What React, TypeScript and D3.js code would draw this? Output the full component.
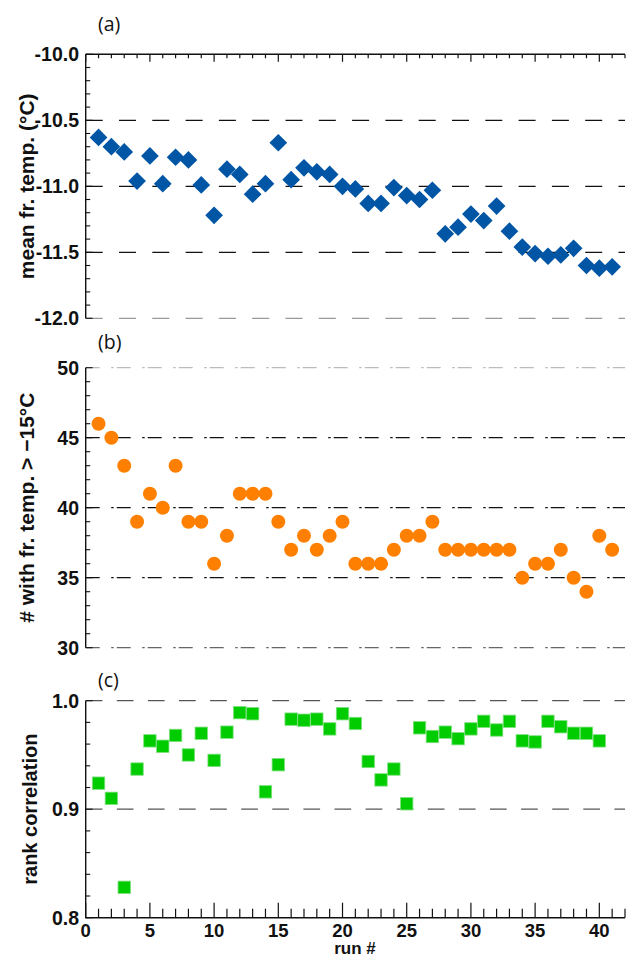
import React from "react";
import * as d3 from "d3";

const runsA = d3.range(1, 42);
const meanTemp = [
  -10.63, -10.70, -10.74, -10.96, -10.77, -10.98, -10.78, -10.80, -10.99, -11.22,
  -10.87, -10.91, -11.06, -10.98, -10.67, -10.95, -10.86, -10.89, -10.91, -11.00,
  -11.02, -11.13, -11.13, -11.01, -11.07, -11.10, -11.03, -11.36, -11.31, -11.21,
  -11.26, -11.15, -11.34, -11.46, -11.51, -11.53, -11.52, -11.47, -11.60, -11.62,
  -11.61,
];
const countAbove = [
  46, 45, 43, 39, 41, 40, 43, 39, 39, 36,
  38, 41, 41, 41, 39, 37, 38, 37, 38, 39,
  36, 36, 36, 37, 38, 38, 39, 37, 37, 37,
  37, 37, 37, 35, 36, 36, 37, 35, 34, 38,
  37,
];
const runsC = d3.range(1, 41);
const rankCorr = [
  0.924, 0.910, 0.828, 0.937, 0.963, 0.958, 0.968, 0.950, 0.970, 0.945,
  0.971, 0.989, 0.988, 0.916, 0.941, 0.983, 0.982, 0.983, 0.974, 0.988,
  0.979, 0.944, 0.927, 0.937, 0.905, 0.975, 0.967, 0.971, 0.965, 0.974,
  0.981, 0.973, 0.981, 0.963, 0.962, 0.981, 0.976, 0.970, 0.970, 0.963,
];

const xTicksMajor = [0, 5, 10, 15, 20, 25, 30, 35, 40];
const aTicks = [-10.0, -10.5, -11.0, -11.5, -12.0];
const bTicks = [50, 45, 40, 35, 30];
const cTicks = [1.0, 0.9, 0.8];

const W = 627;
const H = 958;
const X0 = 85.7;
const X1 = 625;

const tickFont = "Liberation Sans";
const panelFont = "Open Sans";

const boldStyle: React.CSSProperties = { fontFamily: tickFont, fontWeight: 700 };

export default function App() {
  const x = d3.scaleLinear().domain([0, 42]).range([X0, X1]);
  const yA = d3.scaleLinear().domain([-12, -10]).range([318.3, 54.3]);
  const yB = d3.scaleLinear().domain([30, 50]).range([647.7, 367.7]);
  const yC = d3.scaleLinear().domain([0.8, 1.0]).range([917.7, 700.7]);

  const minorA = d3.range(0, 21).map((i) => -12 + i * 0.1);
  const minorB = d3.range(30, 51);
  const minorC = d3.range(0, 11).map((i) => 0.8 + i * 0.02);
  const xMinor = d3.range(0, 43);

  const diamond = d3.symbol().type(d3.symbolDiamond2).size(200);
  const dA = diamond()!;

  const yAxisLine = (top: number, bottom: number) => (
    <line x1={X0} x2={X0} y1={top} y2={bottom} stroke="#111" strokeWidth={1.4} />
  );

  return (
    <svg
      width={W}
      height={H}
      style={{ position: "absolute", left: 0, top: 0, background: "#fff" }}
    >
      {/* ---------- Panel (a) ---------- */}
      <text x={98} y={31} style={{ fontFamily: panelFont }} fontSize={19.5} fill="#111">(a)</text>
      {aTicks.map((t, i) => (
        <line
          key={"ga" + i}
          x1={X0}
          x2={X1}
          y1={yA(t)}
          y2={yA(t)}
          stroke={t === -12 ? "#999" : t === -10 ? "none" : "#111"}
          strokeWidth={1.3}
          strokeDasharray="17 16.3"
        />
      ))}
      <line x1={X0} x2={X1} y1={yA(-10)} y2={yA(-10)} stroke="#111" strokeWidth={1.4} />
      {xMinor.map((v) => (
        <line
          key={"ta" + v}
          x1={x(v)}
          x2={x(v)}
          y1={yA(-10)}
          y2={yA(-10) + (v % 5 === 0 ? 7.5 : 4)}
          stroke="#111"
          strokeWidth={1.2}
        />
      ))}
      {yAxisLine(yA(-10), yA(-12))}
      {minorA.map((v, i) => (
        <line key={"ma" + i} x1={X0} x2={X0 + (i % 5 === 0 ? 7 : 4.5)} y1={yA(v)} y2={yA(v)} stroke="#111" strokeWidth={1.1} />
      ))}
      {aTicks.map((t) => (
        <text key={"la" + t} x={79} y={yA(t) + 6.8} textAnchor="end" style={boldStyle} fontSize={19.5} fill="#111">
          {t.toFixed(1)}
        </text>
      ))}
      <text
        transform={`translate(34,${(yA(-10) + yA(-12)) / 2}) rotate(-90)`}
        textAnchor="middle"
        style={boldStyle}
        fontSize={21}
        fill="#111"
      >
        mean fr. temp. (°C)
      </text>
      {runsA.map((r, i) => (
        <path key={"pa" + r} d={dA} transform={`translate(${x(r)},${yA(meanTemp[i])})`} fill="#0055A5" />
      ))}

      {/* ---------- Panel (b) ---------- */}
      <text x={98} y={349} style={{ fontFamily: panelFont }} fontSize={19.5} fill="#111">(b)</text>
      {bTicks.map((t) => (
        <line
          key={"gb" + t}
          x1={X0}
          x2={X1}
          y1={yB(t)}
          y2={yB(t)}
          stroke={t === 50 ? "#bbb" : t === 30 ? "#666" : "#111"}
          strokeWidth={1.3}
          strokeDasharray="14 11.5 2.5 3"
        />
      ))}
      {yAxisLine(yB(50), yB(30))}
      {minorB.map((v) => (
        <line key={"mb" + v} x1={X0} x2={X0 + (v % 5 === 0 ? 7 : 4.5)} y1={yB(v)} y2={yB(v)} stroke="#111" strokeWidth={1.1} />
      ))}
      {bTicks.map((t) => (
        <text key={"lb" + t} x={79} y={yB(t) + 6.8} textAnchor="end" style={boldStyle} fontSize={19.5} fill="#111">
          {t}
        </text>
      ))}
      <text
        transform={`translate(34,${(yB(50) + yB(30)) / 2}) rotate(-90)`}
        textAnchor="middle"
        style={boldStyle}
        fontSize={21}
        fill="#111"
      >
        # with fr. temp. &gt; −15°C
      </text>
      {runsA.map((r, i) => (
        <circle key={"pb" + r} cx={x(r)} cy={yB(countAbove[i])} r={7} fill="#FF8000" />
      ))}

      {/* ---------- Panel (c) ---------- */}
      <text x={98} y={687} style={{ fontFamily: panelFont }} fontSize={19.5} fill="#111">(c)</text>
      {[1.0, 0.9].map((t) => (
        <line
          key={"gc" + t}
          x1={X0}
          x2={X1}
          y1={yC(t)}
          y2={yC(t)}
          stroke="#555"
          strokeWidth={1.3}
          strokeDasharray="16.7 14.4"
        />
      ))}
      {yAxisLine(yC(1.0), yC(0.8) + 0.5)}
      {minorC.map((v, i) => (
        <line key={"mc" + i} x1={X0} x2={X0 + (i % 5 === 0 ? 7 : 4.5)} y1={yC(v)} y2={yC(v)} stroke="#111" strokeWidth={1.1} />
      ))}
      <line x1={X0} x2={X1} y1={yC(0.8)} y2={yC(0.8)} stroke="#111" strokeWidth={1.4} />
      {xMinor.map((v) => (
        <line
          key={"tc" + v}
          x1={x(v)}
          x2={x(v)}
          y1={yC(0.8)}
          y2={yC(0.8) - (v % 5 === 0 ? 15 : 9)}
          stroke="#111"
          strokeWidth={1.2}
        />
      ))}
      {cTicks.map((t) => (
        <text key={"lc" + t} x={79} y={yC(t) + 6.8} textAnchor="end" style={boldStyle} fontSize={19.5} fill="#111">
          {t.toFixed(1)}
        </text>
      ))}
      {xTicksMajor.map((t) => (
        <text key={"lx" + t} x={x(t)} y={936.5} textAnchor="middle" style={boldStyle} fontSize={18.5} fill="#111">
          {t}
        </text>
      ))}
      <text x={355} y={954} textAnchor="middle" style={boldStyle} fontSize={17} fill="#111">
        run #
      </text>
      <text
        transform={`translate(37,${(yC(1.0) + yC(0.8)) / 2}) rotate(-90)`}
        textAnchor="middle"
        style={boldStyle}
        fontSize={20}
        fill="#111"
      >
        rank correlation
      </text>
      {runsC.map((r, i) => (
        <rect
          key={"pc" + r}
          x={x(r) - 6.2}
          y={yC(rankCorr[i]) - 6.2}
          width={12.4}
          height={12.4}
          fill="#00CC00"
          stroke="#7fe07f"
          strokeWidth={0.8}
        />
      ))}
    </svg>
  );
}
